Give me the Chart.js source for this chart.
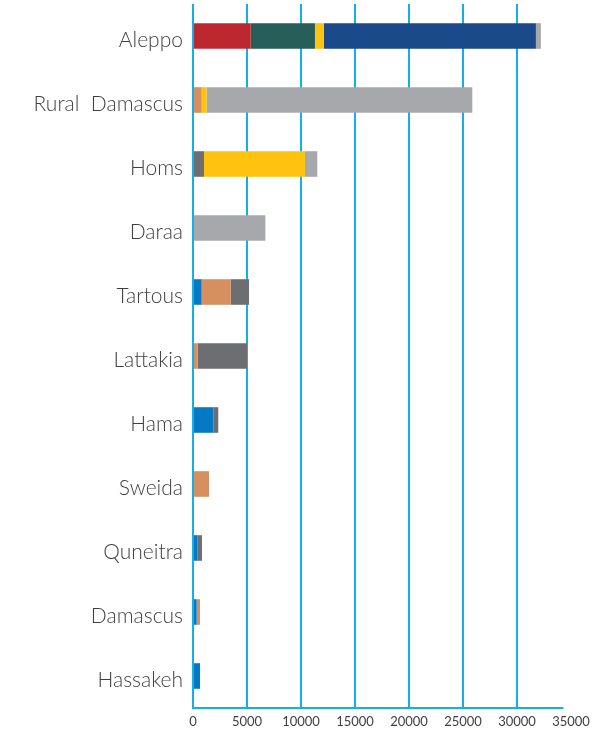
<!DOCTYPE html>
<html>
<head>
<meta charset="utf-8">
<script src="https://cdn.jsdelivr.net/npm/chart.js@4"></script>
<style>
  html, body { margin: 0; padding: 0; background: #fff; }
  #wrap { width: 611px; height: 735px; }
</style>
</head>
<body>
<div id="wrap"><canvas id="chart" width="611" height="735"></canvas></div>
<script>
const governorates = ["Aleppo", "Rural  Damascus", "Homs", "Daraa", "Tartous", "Lattakia", "Hama", "Sweida", "Quneitra", "Damascus", "Hassakeh"];

const blueVals   = [0, 0, 0, 0, 800, 0, 1880, 0, 400, 340, 650];
const orangeVals = [0, 800, 0, 0, 2690, 430, 0, 1480, 0, 310, 0];
const dgrayVals  = [0, 0, 1020, 0, 1700, 4570, 460, 0, 430, 0, 0];
const redVals    = [5340, 0, 0, 0, 0, 0, 0, 0, 0, 0, 0];
const tealVals   = [5950, 0, 0, 0, 0, 0, 0, 0, 0, 0, 0];
const yellowVals = [830, 460, 9350, 0, 0, 0, 0, 0, 0, 0, 0];
const navyVals   = [19630, 0, 0, 0, 0, 0, 0, 0, 0, 0, 0];
const lgrayVals  = [460, 24600, 1140, 6700, 0, 0, 0, 0, 0, 0, 0];

const xTicks = [0, 5000, 10000, 15000, 20000, 25000, 30000, 35000];

const gridColor = "#14afe9";
const textColor = "#3f3f3f";

function series(label, data, color) {
  return {
    label: label,
    data: data,
    backgroundColor: color,
    borderWidth: 0,
    barPercentage: 0.8,
    categoryPercentage: 0.5,
  };
}

// bottom axis line stops a little short of the last tick, like the original.
// y labels are drawn last (z:1) with a bit of letter spacing
const extras = {
  id: "extras",
  beforeDraw(chart) {
    chart.ctx.letterSpacing = "0px";
  },
  afterDatasetsDraw(chart) {
    const x = chart.scales.x;
    const ctx = chart.ctx;
    ctx.save();
    ctx.strokeStyle = gridColor;
    ctx.lineWidth = 2;
    ctx.beginPath();
    ctx.moveTo(x.getPixelForValue(0) - 1, chart.chartArea.bottom);
    ctx.lineTo(x.getPixelForValue(34300), chart.chartArea.bottom);
    ctx.stroke();
    ctx.restore();
    ctx.letterSpacing = "1.5px";
  },
  afterDraw(chart) {
    chart.ctx.letterSpacing = "0px";
  },
};

new Chart(document.getElementById("chart"), {
  type: "bar",
  data: {
    labels: governorates,
    datasets: [
      series("Series 1", blueVals, "#0679c4"),
      series("Series 2", orangeVals, "#d68f5e"),
      series("Series 3", dgrayVals, "#6d6e72"),
      series("Series 4", redVals, "#bd282f"),
      series("Series 5", tealVals, "#275e5a"),
      series("Series 6", yellowVals, "#ffc20f"),
      series("Series 7", navyVals, "#1b4a8b"),
      series("Series 8", lgrayVals, "#a7a8ab"),
    ],
  },
  options: {
    indexAxis: "y",
    responsive: false,
    animation: false,
    layout: { padding: { top: 4, right: 40, bottom: 0, left: 0 } },
    plugins: { legend: { display: false }, tooltip: { enabled: false } },
    scales: {
      x: {
        stacked: true,
        min: 0,
        max: 35000,
        afterBuildTicks(scale) {
          scale.ticks = xTicks.map((v) => ({ value: v }));
        },
        afterFit(scale) { scale.height = 27; },
        grid: {
          color: (c) => (c.tick && c.tick.value === 35000 ? "rgba(0,0,0,0)" : gridColor),
          lineWidth: 2,
          drawTicks: false,
        },
        border: { display: false },
        ticks: {
          padding: 6,
          color: textColor,
          font: { family: "Lato", size: 13 },
          maxRotation: 0,
          autoSkip: false,
          callback: (v) => String(v),
        },
      },
      y: {
        stacked: true,
        z: 1,
        afterFit(scale) {
          scale.width = 193;
          scale.paddingTop = 0;
          scale.paddingBottom = 0;
        },
        grid: { display: false },
        border: { display: false },
        ticks: {
          padding: 2,
          labelOffset: 4,
          color: textColor,
          font: { family: "Lato", size: 21, weight: 300 },
          autoSkip: false,
        },
      },
    },
  },
  plugins: [extras],
});
</script>
</body>
</html>
